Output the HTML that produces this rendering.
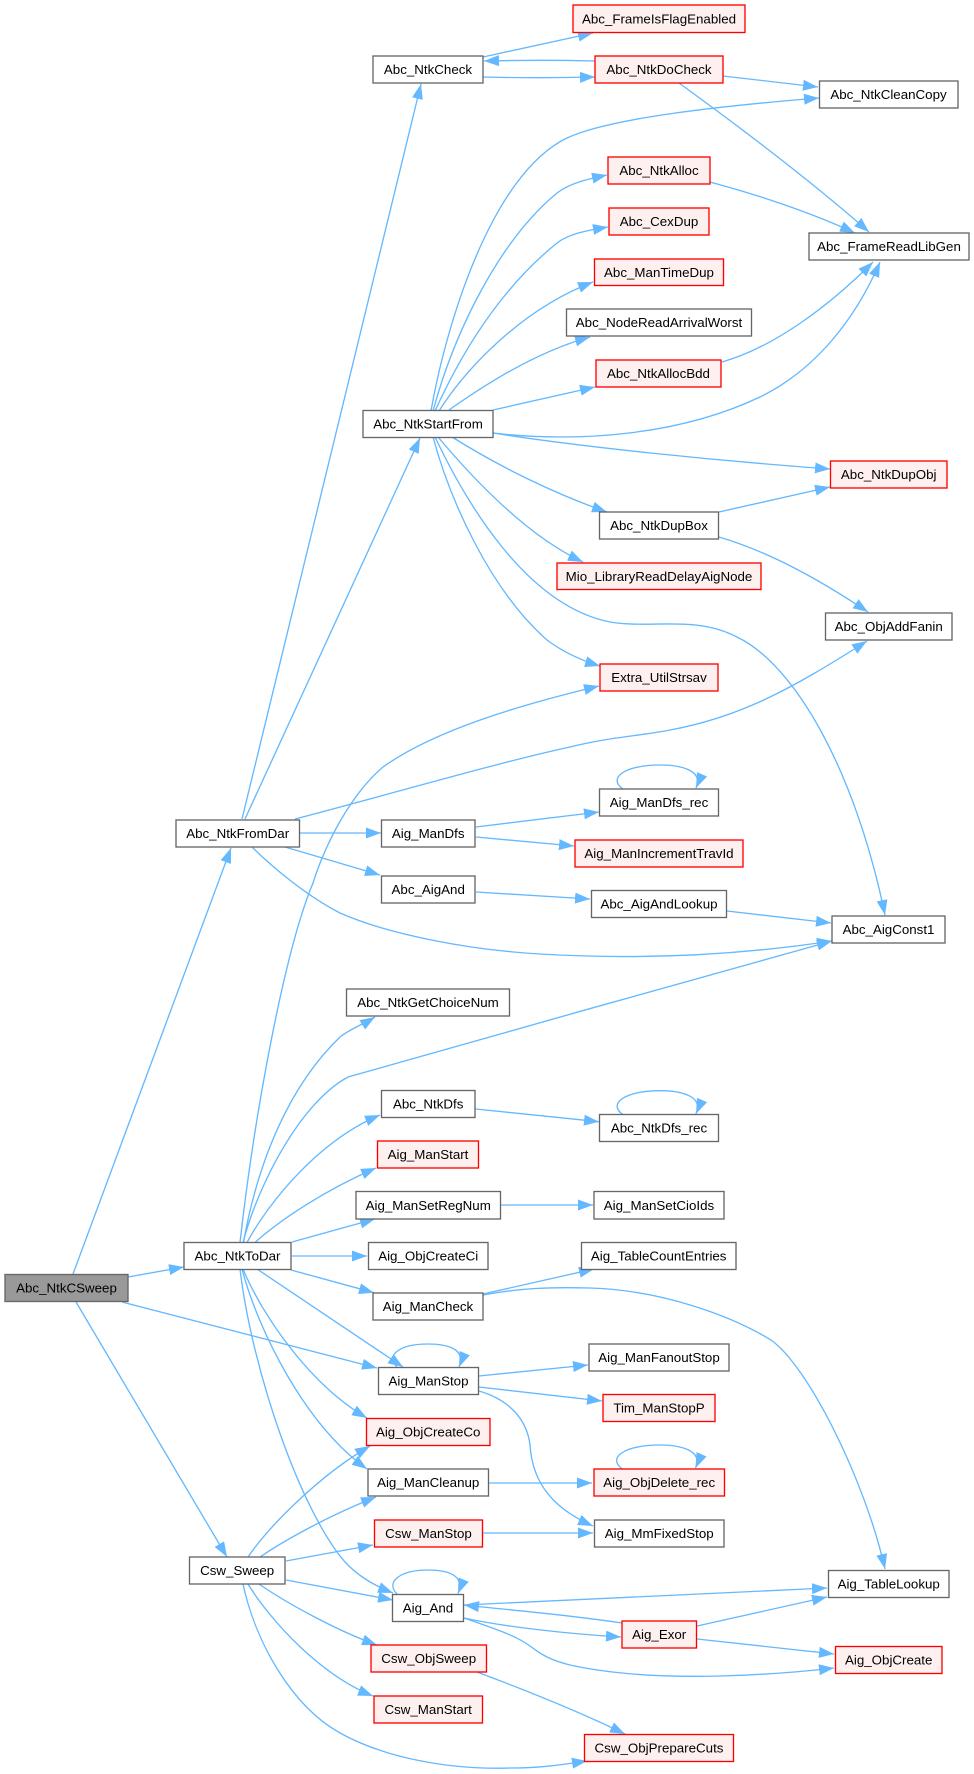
<!DOCTYPE html>
<html><head><meta charset="utf-8"><title>Call graph</title>
<style>
html,body{margin:0;padding:0;background:#fff}
svg{display:block}
text{font-family:"Liberation Sans",Arial,sans-serif;font-size:13.33px;fill:#000;text-anchor:middle}
.e path{fill:none;stroke:#63B8FF;stroke-width:1.33;marker-end:url(#a)}
.n rect{fill:#fff;stroke:#666;stroke-width:1.33}
.r rect{fill:#FFF0F0;stroke:#F00;stroke-width:1.33}
.m rect{fill:#999;stroke:#666;stroke-width:1.33}
</style></head><body>
<svg xmlns="http://www.w3.org/2000/svg" width="974" height="1774" viewBox="0 0 974 1774">
<defs><marker id="a" markerUnits="userSpaceOnUse" markerWidth="15" markerHeight="11" viewBox="0 0 15 11" refX="15" refY="5.5" orient="auto"><path d="M0,0L15,5.5L0,11z" fill="#63B8FF"/></marker></defs>
<rect width="974" height="1774" fill="#fff"/>
<g class="e">
<path d="M73,1274L231,848"/>
<path d="M128,1277L184,1267"/>
<path d="M122,1302L377,1368"/>
<path d="M76,1302L227,1557"/>
<path d="M242,819L421,84"/>
<path d="M245,819L420,438"/>
<path d="M295,819C380,797 500,762 570,747C610,737 640,736 670,730C740,717 790,690 867,641"/>
<path d="M299,833L381,833"/>
<path d="M285,847L380,875"/>
<path d="M252,847C270,865 305,895 340,913C390,935 470,950 540,954C640,960 740,955 832,941"/>
<path d="M476,827L599,812"/>
<path d="M476,837L574,846"/>
<path d="M476,892L590,899"/>
<path d="M727,911L831,923"/>
<path d="M623,789C607,778 625,765 660,765C680,765 704,770 696,788"/>
<path d="M623,1114.7C607,1103.7 625,1090.7 660,1090.7C680,1090.7 704,1095.7 696,1113.7"/>
<path d="M622.5,1469C606.5,1458 624.5,1445 659.5,1445C679.5,1445 703.5,1450 695.5,1468"/>
<path d="M397,1367C385,1355 400,1344 428,1344C445,1344 467,1348 459,1367"/>
<path d="M397,1594C385,1582 400,1570 428,1570C445,1570 466,1574 458,1593.5"/>
<path d="M431,411C445,330 490,175 567,138C610,118 720,106 819,98"/>
<path d="M433,411C455,330 500,240 557,193C570,183 588,179 607,175"/>
<path d="M435,411C465,345 505,285 557,243C570,233 590,230 608,227"/>
<path d="M439,411C465,370 520,310 593,282"/>
<path d="M449,410C480,388 535,352 590,337"/>
<path d="M493,410L595,387"/>
<path d="M493,433C580,443 680,435 760,397C815,370 855,320 880,262"/>
<path d="M722,362C775,347 830,305 873,262"/>
<path d="M710,182C755,194 810,212 855,233"/>
<path d="M679,83C730,120 810,180 869,232"/>
<path d="M723,76L818,87"/>
<path d="M595,61C555,60 525,60 484,61"/>
<path d="M483,77C520,78 555,78 595,77"/>
<path d="M483,57L593,33"/>
<path d="M493,433C580,447 720,461 830,469"/>
<path d="M452,437C500,467 555,494 607,512"/>
<path d="M438,437C470,475 525,535 583,562"/>
<path d="M433,437C450,500 490,590 547,640C563,652 580,660 600,666"/>
<path d="M435,437C465,500 525,605 610,622C650,629 695,615 737,637C795,665 855,770 885,915"/>
<path d="M719,512L830,487"/>
<path d="M719,537C770,552 820,580 868,612"/>
<path d="M240,1242.5C255,1110 285,950 313,883C325,845 350,795 383,767C435,730 520,705 599,686"/>
<path d="M243.5,1242.5C258,1160 290,1085 340,1037C350,1029 362,1025 375,1017"/>
<path d="M243,1242.5C258,1185 300,1103 348,1077C460,1045 720,972 832,941"/>
<path d="M247,1242.5C270,1200 320,1140 380,1115"/>
<path d="M255,1242.5C280,1220 325,1190 376,1168"/>
<path d="M475.7,1109L599,1121.7"/>
<path d="M292,1242L375,1219"/>
<path d="M292,1256L367,1256"/>
<path d="M291,1270L374,1292.7"/>
<path d="M257,1269L403,1367"/>
<path d="M243,1269C262,1315 310,1385 367,1418"/>
<path d="M242,1269C258,1330 305,1425 367,1469"/>
<path d="M240,1269C252,1370 300,1510 345,1562C358,1576 375,1586 393,1593"/>
<path d="M483,1294L594,1269"/>
<path d="M483,1295C520,1288 550,1287 590,1288C660,1290 730,1315 771,1340C808,1366 865,1480 885,1569"/>
<path d="M501,1205L593,1205"/>
<path d="M479,1376L588,1365"/>
<path d="M479,1387L602,1401"/>
<path d="M479,1391C510,1400 527,1420 530,1445C532,1475 545,1505 593,1526"/>
<path d="M489,1483L592,1483"/>
<path d="M482,1533L593,1533"/>
<path d="M248,1557C270,1525 320,1475 370,1446"/>
<path d="M260,1557C285,1540 330,1515 376,1497"/>
<path d="M286,1561L373,1545"/>
<path d="M286,1580L393,1600"/>
<path d="M259,1584C285,1602 335,1630 377,1645"/>
<path d="M248,1584C270,1620 320,1675 373,1696"/>
<path d="M243,1584C255,1640 290,1705 340,1733C385,1758 450,1770 510,1768C540,1768 560,1765 587,1761"/>
<path d="M477,1672C525,1690 580,1712 625,1734"/>
<path d="M464,1605L827,1588"/>
<path d="M622,1623C570,1615 510,1610 464,1605"/>
<path d="M464,1618C505,1627 570,1634 621,1637"/>
<path d="M464,1618C490,1627 515,1635 530,1646C542,1655 550,1660 570,1665C620,1676 680,1677 720,1676C760,1675 800,1672 834,1668"/>
<path d="M697,1626L827,1597"/>
<path d="M697,1639L834,1654"/>
</g>
<g class="r"><rect x="573" y="5" width="172" height="27.5"/><text x="659" y="23.5">Abc_FrameIsFlagEnabled</text></g>
<g class="n"><rect x="373" y="56" width="110" height="27"/><text x="428" y="74">Abc_NtkCheck</text></g>
<g class="r"><rect x="595" y="56" width="128" height="27"/><text x="659" y="74">Abc_NtkDoCheck</text></g>
<g class="n"><rect x="819.5" y="81" width="138.5" height="27"/><text x="888.5" y="99">Abc_NtkCleanCopy</text></g>
<g class="r"><rect x="608" y="157" width="102" height="27"/><text x="659" y="175">Abc_NtkAlloc</text></g>
<g class="r"><rect x="609" y="208" width="100" height="27"/><text x="659" y="226">Abc_CexDup</text></g>
<g class="n"><rect x="809" y="233" width="160" height="27"/><text x="889" y="251">Abc_FrameReadLibGen</text></g>
<g class="r"><rect x="594.5" y="259" width="129" height="26.5"/><text x="659" y="277">Abc_ManTimeDup</text></g>
<g class="n"><rect x="566.5" y="309" width="185" height="27"/><text x="659" y="327">Abc_NodeReadArrivalWorst</text></g>
<g class="r"><rect x="596" y="360" width="125" height="27"/><text x="658.5" y="378">Abc_NtkAllocBdd</text></g>
<g class="n"><rect x="363" y="410.5" width="130" height="27"/><text x="428" y="428.5">Abc_NtkStartFrom</text></g>
<g class="r"><rect x="830.5" y="461" width="116.5" height="27"/><text x="888.7" y="479">Abc_NtkDupObj</text></g>
<g class="n"><rect x="599.5" y="512" width="119" height="27"/><text x="659" y="530">Abc_NtkDupBox</text></g>
<g class="r"><rect x="557" y="563" width="204" height="26.5"/><text x="659" y="581">Mio_LibraryReadDelayAigNode</text></g>
<g class="n"><rect x="825.5" y="613" width="126.5" height="27"/><text x="888.7" y="631">Abc_ObjAddFanin</text></g>
<g class="r"><rect x="600" y="664" width="118" height="27"/><text x="659" y="682">Extra_UtilStrsav</text></g>
<g class="n"><rect x="599.5" y="789" width="119" height="27"/><text x="659" y="807">Aig_ManDfs_rec</text></g>
<g class="n"><rect x="176" y="820" width="123.5" height="27"/><text x="237.7" y="838">Abc_NtkFromDar</text></g>
<g class="n"><rect x="381.5" y="820" width="93.5" height="27"/><text x="428.2" y="838">Aig_ManDfs</text></g>
<g class="r"><rect x="575" y="840" width="168" height="27"/><text x="659" y="858">Aig_ManIncrementTravId</text></g>
<g class="n"><rect x="381.5" y="876" width="93.5" height="27"/><text x="428.2" y="894">Abc_AigAnd</text></g>
<g class="n"><rect x="591.5" y="890.5" width="135" height="27"/><text x="659" y="908.5">Abc_AigAndLookup</text></g>
<g class="n"><rect x="832" y="916" width="113" height="27"/><text x="888.5" y="934">Abc_AigConst1</text></g>
<g class="n"><rect x="346.5" y="989" width="163" height="27"/><text x="428" y="1007">Abc_NtkGetChoiceNum</text></g>
<g class="n"><rect x="381.5" y="1090.5" width="93.5" height="27"/><text x="428.2" y="1108.5">Abc_NtkDfs</text></g>
<g class="n"><rect x="599.5" y="1114.5" width="119" height="27"/><text x="659" y="1132.5">Abc_NtkDfs_rec</text></g>
<g class="r"><rect x="377.5" y="1141" width="101" height="27"/><text x="428" y="1159">Aig_ManStart</text></g>
<g class="n"><rect x="356" y="1191.5" width="144.5" height="27.5"/><text x="428.2" y="1210">Aig_ManSetRegNum</text></g>
<g class="n"><rect x="594" y="1191.5" width="130" height="27.5"/><text x="659" y="1210">Aig_ManSetCioIds</text></g>
<g class="n"><rect x="184" y="1242.5" width="107" height="27"/><text x="237.5" y="1260.5">Abc_NtkToDar</text></g>
<g class="n"><rect x="368.5" y="1242.5" width="119.5" height="27"/><text x="428.2" y="1260.5">Aig_ObjCreateCi</text></g>
<g class="n"><rect x="581.5" y="1242.5" width="154.5" height="27"/><text x="658.7" y="1260.5">Aig_TableCountEntries</text></g>
<g class="m"><rect x="5" y="1274.5" width="123" height="27"/><text x="66.5" y="1292.5">Abc_NtkCSweep</text></g>
<g class="n"><rect x="373" y="1293" width="110" height="27"/><text x="428" y="1311">Aig_ManCheck</text></g>
<g class="n"><rect x="589" y="1344" width="140" height="27"/><text x="659" y="1362">Aig_ManFanoutStop</text></g>
<g class="n"><rect x="378.5" y="1367.5" width="100" height="27"/><text x="428.5" y="1385.5">Aig_ManStop</text></g>
<g class="r"><rect x="603" y="1394.5" width="112" height="27"/><text x="659" y="1412.5">Tim_ManStopP</text></g>
<g class="r"><rect x="366.5" y="1418.5" width="123.5" height="27"/><text x="428.2" y="1436.5">Aig_ObjCreateCo</text></g>
<g class="n"><rect x="368" y="1469" width="120.5" height="27"/><text x="428.2" y="1487">Aig_ManCleanup</text></g>
<g class="r"><rect x="594" y="1469" width="130.5" height="27"/><text x="659.2" y="1487">Aig_ObjDelete_rec</text></g>
<g class="r"><rect x="374.5" y="1520" width="108" height="27"/><text x="428.5" y="1538">Csw_ManStop</text></g>
<g class="n"><rect x="594.5" y="1520" width="129.5" height="27"/><text x="659.2" y="1538">Aig_MmFixedStop</text></g>
<g class="n"><rect x="189.5" y="1557" width="95.5" height="27"/><text x="237.2" y="1575">Csw_Sweep</text></g>
<g class="n"><rect x="828.5" y="1570.5" width="120.5" height="27"/><text x="888.7" y="1588.5">Aig_TableLookup</text></g>
<g class="n"><rect x="392.5" y="1594.5" width="71" height="27"/><text x="428" y="1612.5">Aig_And</text></g>
<g class="r"><rect x="622" y="1621" width="74.5" height="27"/><text x="659.2" y="1639">Aig_Exor</text></g>
<g class="r"><rect x="371" y="1645" width="115.5" height="27"/><text x="428.7" y="1663">Csw_ObjSweep</text></g>
<g class="r"><rect x="835.5" y="1646.5" width="106.5" height="27"/><text x="888.7" y="1664.5">Aig_ObjCreate</text></g>
<g class="r"><rect x="374" y="1696" width="108.5" height="27"/><text x="428.2" y="1714">Csw_ManStart</text></g>
<g class="r"><rect x="584.5" y="1734.5" width="149" height="27"/><text x="659" y="1752.5">Csw_ObjPrepareCuts</text></g>
</svg>
</body></html>
